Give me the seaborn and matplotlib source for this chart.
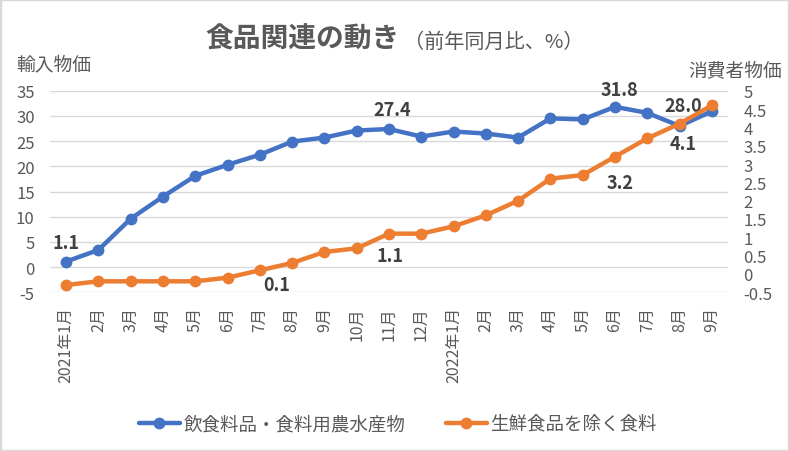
import matplotlib
matplotlib.use("Agg")
import matplotlib.pyplot as plt
from matplotlib.lines import Line2D
from matplotlib.patches import Rectangle
import seaborn as sns
import numpy as np

months = ["2021年1月", "2月", "3月", "4月", "5月", "6月", "7月", "8月", "9月", "10月",
          "11月", "12月", "2022年1月", "2月", "3月", "4月", "5月", "6月", "7月", "8月", "9月"]
import_food = [1.1, 3.4, 9.6, 14.0, 18.1, 20.3, 22.3, 24.9, 25.7, 27.1,
               27.4, 25.9, 26.9, 26.5, 25.7, 29.5, 29.3, 31.8, 30.6, 28.0, 30.9]
cpi_food = [-0.3, -0.2, -0.2, -0.2, -0.2, -0.1, 0.1, 0.3, 0.6, 0.7,
            1.1, 1.1, 1.3, 1.6, 2.0, 2.6, 2.7, 3.2, 3.7, 4.1, 4.6]
series_names = ["飲食料品・食料用農水産物", "生鮮食品を除く食料"]
left_ticks = [-5, 0, 5, 10, 15, 20, 25, 30, 35]
right_ticks = [-0.5, 0, 0.5, 1, 1.5, 2, 2.5, 3, 3.5, 4, 4.5, 5]
right_tick_labels = ["-0.5", "0", "0.5", "1", "1.5", "2", "2.5", "3", "3.5", "4", "4.5", "5"]

# labelled points: (index, text, dx_px, dy_px)
labels_blue = [(0, "1.1", 0, 19), (10, "27.4", 3, 20), (17, "31.8", 4, 17), (19, "28.0", 4, 20)]
labels_orange = [(6, "0.1", 17, -14), (10, "1.1", 1, -22), (17, "3.2", 5, -26), (19, "4.1", 4, -20)]

sns.set_theme(style="white")
plt.rcParams["font.family"] = ["Noto Sans CJK JP", "DejaVu Sans"]

BLUE = "#4472C4"
ORANGE = "#ED7D31"
TXT = "#595959"
LBL = "#404040"
GRID = "#D9D9D9"

fig = plt.figure(figsize=(7.89, 4.52), dpi=100)
ax = fig.add_axes([50 / 789, 1 - 293.3 / 452, 678 / 789, 201.6 / 452])
ax2 = ax.twinx()

x = np.arange(len(months))
sns.lineplot(x=x, y=import_food, ax=ax, color=BLUE, linewidth=3.2, marker="o",
             markersize=8.5, markeredgewidth=0, legend=False)
sns.lineplot(x=x, y=cpi_food, ax=ax2, color=ORANGE, linewidth=3.2, marker="o",
             markersize=8.5, markeredgewidth=0, legend=False)

ax.set_xlim(-0.5, len(months) - 0.5)
ax.set_ylim(-5, 35)
ax2.set_ylim(-0.5, 5)
ax.set_yticks(left_ticks)
ax.set_yticklabels([str(t) for t in left_ticks])
ax2.set_yticks(right_ticks)
ax2.set_yticklabels(right_tick_labels)
ax.set_xticks(x)
ax.set_xticklabels(months, rotation=90, va="top", ha="center")

ax.grid(axis="y", color=GRID, linewidth=1.0)
ax.set_axisbelow(True)
for a in (ax, ax2):
    for s in ("top", "left", "right", "bottom"):
        a.spines[s].set_visible(False)
    a.set_xlabel("")
    a.set_ylabel("")
ax.tick_params(axis="y", length=0, pad=11, labelsize=12, labelcolor=TXT)
ax2.tick_params(axis="y", length=0, pad=11, labelsize=12, labelcolor=TXT)
ax.tick_params(axis="x", length=0, pad=10, labelsize=11.5, labelcolor=TXT)

for i, t, dx, dy in labels_blue:
    ax.annotate(t, (x[i], import_food[i]), xytext=(dx * 0.72, dy * 0.72),
                textcoords="offset points", ha="center", va="center",
                fontsize=13, fontweight="bold", color=LBL)
for i, t, dx, dy in labels_orange:
    ax2.annotate(t, (x[i], cpi_food[i]), xytext=(dx * 0.72, dy * 0.72),
                 textcoords="offset points", ha="center", va="center",
                 fontsize=13, fontweight="bold", color=LBL)

# titles
fig.text(400 / 789, 1 - 40 / 452, "食品関連の動き", ha="right", va="center",
         fontsize=20, fontweight="bold", color=TXT)
fig.text(404 / 789, 1 - 42 / 452, "（前年同月比、%）", ha="left", va="center",
         fontsize=14.5, color=TXT)
fig.text(16 / 789, 1 - 65 / 452, "輸入物価", ha="left", va="center",
         fontsize=13.5, color=TXT)
fig.text(782 / 789, 1 - 72 / 452, "消費者物価", ha="right", va="center",
         fontsize=13.5, color=TXT)

handles = [Line2D([0], [0], color=BLUE, linewidth=3.2, marker="o", markersize=8.5, markeredgewidth=0),
           Line2D([0], [0], color=ORANGE, linewidth=3.2, marker="o", markersize=8.5, markeredgewidth=0)]
fig.legend(handles, series_names, loc="center", bbox_to_anchor=(398 / 789, 1 - 425 / 452),
           ncol=2, frameon=False, fontsize=13.3, labelcolor=TXT, handlelength=2.2,
           handletextpad=0.2, columnspacing=2.2)

fig.patches.append(Rectangle((0, 0), 1, 1, transform=fig.transFigure, fill=False,
                             edgecolor="#D9D9D9", linewidth=2.5))

fig.savefig("out.png", dpi=100)
